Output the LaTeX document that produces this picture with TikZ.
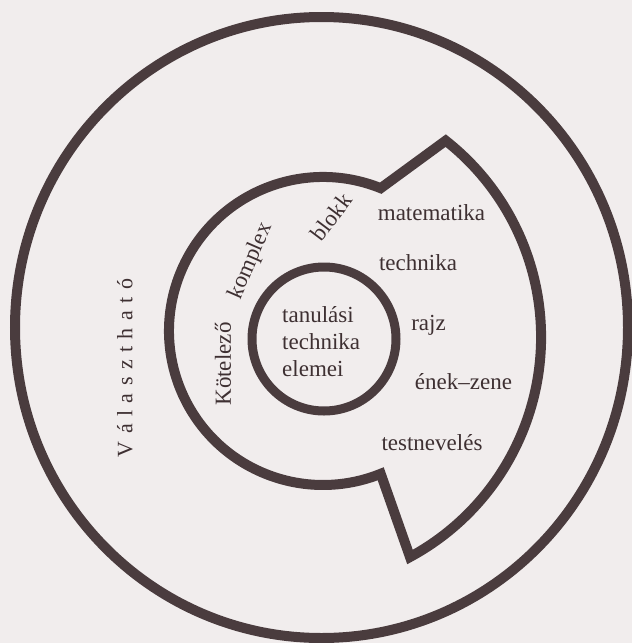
\documentclass[tikz,border=0pt]{standalone}
\usepackage{fontspec}
\setmainfont{Liberation Serif}
\definecolor{paper}{RGB}{241,237,237}
\definecolor{ink}{RGB}{74,60,62}
\definecolor{txt}{RGB}{62,48,50}
\begin{document}
\begin{tikzpicture}[x=1pt,y=-1pt,
  ring/.style={draw=ink,line width=10pt,line join=miter},
  lbl/.style={text=txt,inner sep=0pt,font=\fontsize{23}{27}\selectfont},
  spaced/.style={text=txt,inner sep=0pt,font=\fontsize{22}{26}\selectfont\addfontfeature{LetterSpace=34}}]
\fill[paper] (0,0) rectangle (632,643);
\useasboundingbox (0,0) rectangle (632,643);
% outer ring
\draw[ring] (321.5,327.5) ellipse[x radius=306.5, y radius=310.5];
% inner circle
\draw[ring,line width=9pt] (324,339) circle[radius=72];
% middle notched ring
\draw[ring] (380.7,188.2) arc[start angle=-68,end angle=-292,radius=154]
  -- (410,557) arc[start angle=61.6,end angle=-51.8,radius=250] -- cycle;
% right subjects
\node[lbl,anchor=base] (mat) at (431.5,220) {matematika};
\node[lbl,anchor=base] (tech) at (418,270) {technika};
\node[lbl,anchor=base] (rajz) at (428.5,330) {rajz};
\node[lbl,anchor=base] (enek) at (463.5,389) {ének–zene};
\node[lbl,anchor=base] (test) at (432,450) {testnevelés};
% core
\node[lbl,anchor=base west] (t1) at (282,322) {tanulási};
\node[lbl,anchor=base west] (t2) at (282,349) {technika};
\node[lbl,anchor=base west] (t3) at (282,376) {elemei};
% ring labels
\node[lbl,rotate=90] (kot) at (223,364) {Kötelező};
\node[lbl,rotate=66.5] (komp) at (251,261) {komplex};
\node[lbl,rotate=53] (blokk) at (331,217) {blokk};
\node[spaced,rotate=90] (val) at (125,368) {Választható};
\end{tikzpicture}
\end{document}
